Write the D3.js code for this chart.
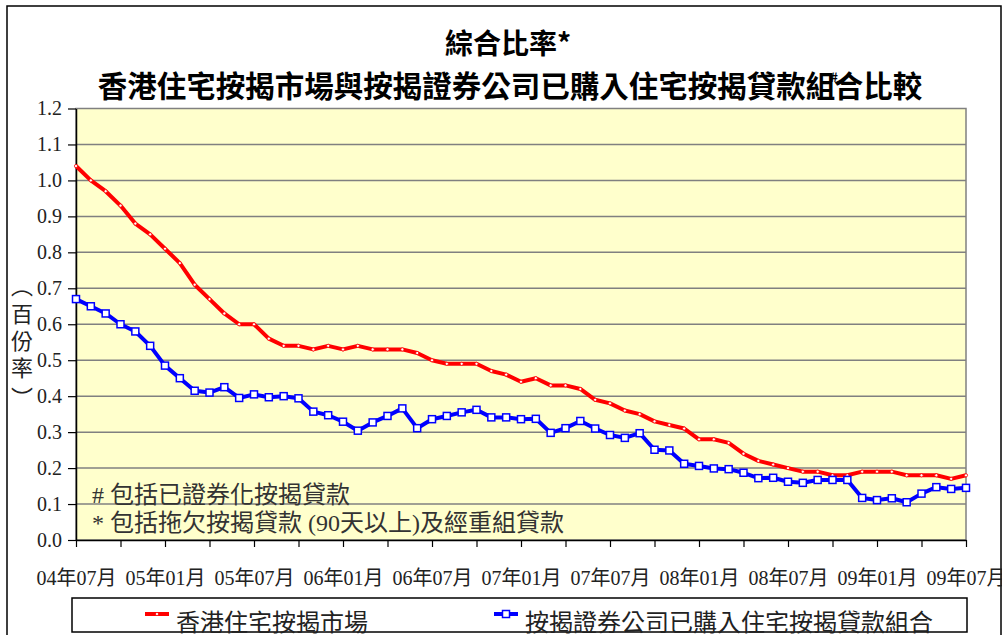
<!DOCTYPE html>
<html>
<head>
<meta charset="utf-8">
<script src="https://cdn.jsdelivr.net/npm/d3@7"></script>
<style>
  body { margin: 0; background: #fff; }
  svg { display: block; }
  text { font-family: "Liberation Serif", "Times New Roman", "Noto Sans CJK TC", serif; fill: #222; }
  .cjk { font-family: "Noto Sans CJK TC", sans-serif; }
</style>
</head>
<body>
<svg width="1002" height="635"></svg>
<script>
// monthly ratios, 2004-07 .. 2009-07 (percent)
const marketRatio = [
    1.04, 1.00, 0.97, 0.93, 0.88, 0.85, 0.81, 0.77, 0.71, 0.67, 0.63, 0.60, 0.60,
    0.56, 0.54, 0.54, 0.53, 0.54, 0.53, 0.54, 0.53, 0.53, 0.53, 0.52, 0.50, 0.49,
    0.49, 0.49, 0.47, 0.46, 0.44, 0.45, 0.43, 0.43, 0.42, 0.39, 0.38, 0.36, 0.35,
    0.33, 0.32, 0.31, 0.28, 0.28, 0.27, 0.24, 0.22, 0.21, 0.20, 0.19, 0.19, 0.18,
    0.18, 0.19, 0.19, 0.19, 0.18, 0.18, 0.18, 0.17, 0.18
];
const hkmcRatio = [
    0.67, 0.65, 0.63, 0.60, 0.58, 0.54, 0.485, 0.45, 0.415, 0.41, 0.425, 0.395, 0.405,
    0.397, 0.40, 0.394, 0.357, 0.347, 0.329, 0.304, 0.327, 0.345, 0.366, 0.311, 0.336, 0.345,
    0.355, 0.362, 0.341, 0.341, 0.336, 0.337, 0.298, 0.311, 0.331, 0.310, 0.292, 0.284, 0.297,
    0.251, 0.249, 0.212, 0.206, 0.199, 0.197, 0.187, 0.172, 0.173, 0.162, 0.159, 0.167, 0.167,
    0.167, 0.117, 0.111, 0.116, 0.105, 0.129, 0.147, 0.142, 0.145
];
const months = d3.timeMonth.range(new Date(2004, 6, 1), new Date(2009, 7, 1));
const tickLabels = ['04年07月', '05年01月', '05年07月', '06年01月', '06年07月', '07年01月',
    '07年07月', '08年01月', '08年07月', '09年01月', '09年07月'];
const yTicks = [0, 0.1, 0.2, 0.3, 0.4, 0.5, 0.6, 0.7, 0.8, 0.9, 1.0, 1.1, 1.2];
const seriesNames = ['香港住宅按揭市場', '按揭證券公司已購入住宅按揭貸款組合'];

const SERIF = '"Liberation Serif", "Times New Roman", "Noto Sans CJK TC", serif';
const svg = d3.select('svg');
const plotL = 76, plotR = 966, plotT = 108.5, plotB = 540;

const x = d3.scalePoint()
    .domain(d3.range(months.length))
    .range([plotL, plotR]);
const y = d3.scaleLinear()
    .domain([0, 1.2])
    .range([plotB, plotT]);

// outer frame
svg.append('rect')
    .attr('x', 7).attr('y', 6)
    .attr('width', 994).attr('height', 640)
    .attr('fill', 'none').attr('stroke', '#000').attr('stroke-width', 1.5);

// title
svg.append('text')
    .attr('class', 'cjk')
    .attr('x', 508).attr('y', 54)
    .attr('text-anchor', 'middle')
    .style('font-size', '28px').style('font-weight', 'bold').style('fill', '#000')
    .text('綜合比率*');
const t2 = svg.append('text')
    .attr('class', 'cjk')
    .attr('x', 510).attr('y', 97)
    .attr('text-anchor', 'middle')
    .style('font-size', '29.5px').style('font-weight', 'bold').style('fill', '#000');
t2.append('tspan').text('香港住宅按揭市場與按揭證券公司已購入住宅按揭貸款組');
t2.append('tspan').attr('dx', -5).attr('dy', -15).style('font-size', '13px').text('#');
t2.append('tspan').attr('dx', -4).attr('dy', 15).text('合比較');

// plot area
svg.append('rect')
    .attr('x', plotL).attr('y', plotT)
    .attr('width', plotR - plotL).attr('height', plotB - plotT)
    .attr('fill', '#FFFFCC')
    .attr('stroke', '#808080').attr('stroke-width', 1.5);

svg.append('g')
    .selectAll('line')
    .data(yTicks.filter(v => v > 0 && v < 1.2))
    .enter()
    .append('line')
    .attr('x1', plotL).attr('x2', plotR)
    .attr('y1', d => y(d)).attr('y2', d => y(d))
    .attr('stroke', '#808080').attr('stroke-width', 1.5);

// footnotes
svg.append('text')
    .attr('x', 92).attr('y', 503)
    .attr('font-family', SERIF)
    .style('font-size', '24px').style('fill', '#333')
    .text('# 包括已證券化按揭貸款');
svg.append('text')
    .attr('x', 92).attr('y', 531)
    .attr('font-family', SERIF)
    .style('font-size', '24px').style('fill', '#333')
    .text('* 包括拖欠按揭貸款 (90天以上)及經重組貸款');

// axes
const xAxis = svg.append('g')
    .attr('transform', `translate(0,${plotB})`)
    .call(d3.axisBottom(x)
        .tickValues(d3.range(0, months.length, 3))
        .tickSize(7)
        .tickSizeOuter(0)
        .tickFormat(i => i % 6 === 0 ? tickLabels[i / 6] : ''));
xAxis.attr('font-family', SERIF);
xAxis.select('.domain').attr('stroke', '#000').attr('stroke-width', 1.5);
xAxis.selectAll('.tick line').attr('stroke', '#000').attr('stroke-width', 1.2);
xAxis.selectAll('.tick text')
    .attr('y', 45).attr('dy', 0)
    .style('font-size', '20px').style('fill', '#222');

const yAxis = svg.append('g')
    .attr('transform', `translate(${plotL},0)`)
    .call(d3.axisLeft(y)
        .tickValues(yTicks)
        .tickSize(8)
        .tickSizeOuter(0)
        .tickPadding(6)
        .tickFormat(d3.format('.1f')));
yAxis.attr('font-family', SERIF);
yAxis.select('.domain').attr('stroke', '#000').attr('stroke-width', 1.5);
yAxis.selectAll('.tick line').attr('stroke', '#000').attr('stroke-width', 1.2);
yAxis.selectAll('.tick text')
    .style('font-size', '20px').style('fill', '#222');

// y label (vertical)
const yLab = ['︵', '百', '份', '率', '︶'];
svg.append('g')
    .selectAll('text')
    .data(yLab)
    .enter()
    .append('text')
    .attr('class', 'cjk')
    .attr('x', 22)
    .attr('y', (d, i) => [294, 322, 349, 376, 406][i])
    .attr('text-anchor', 'middle')
    .style('font-size', '22px').style('fill', '#222')
    .text(d => d);

// series
const line = d3.line()
    .x((d, i) => x(i))
    .y(d => y(d));

svg.append('path')
    .datum(marketRatio)
    .attr('d', line)
    .attr('fill', 'none').attr('stroke', '#FF0000').attr('stroke-width', 4)
    .attr('stroke-linejoin', 'round');
svg.append('g')
    .selectAll('circle')
    .data(marketRatio)
    .enter()
    .append('circle')
    .attr('cx', (d, i) => x(i)).attr('cy', d => y(d))
    .attr('r', 1.6)
    .attr('fill', '#fff').attr('stroke', '#FF0000').attr('stroke-width', 0.8);

svg.append('path')
    .datum(hkmcRatio)
    .attr('d', line)
    .attr('fill', 'none').attr('stroke', '#0000FF').attr('stroke-width', 4)
    .attr('stroke-linejoin', 'round');
svg.append('g')
    .selectAll('rect')
    .data(hkmcRatio)
    .enter()
    .append('rect')
    .attr('x', (d, i) => x(i) - 3.5).attr('y', d => y(d) - 3.5)
    .attr('width', 7).attr('height', 7)
    .attr('fill', '#fff').attr('stroke', '#0000FF').attr('stroke-width', 1.5);

// legend
svg.append('rect')
    .attr('x', 72).attr('y', 598)
    .attr('width', 895).attr('height', 34)
    .attr('fill', '#fff').attr('stroke', '#000').attr('stroke-width', 1.5);

const legendX = [145, 494];
const legendColors = ['#FF0000', '#0000FF'];
const lg = svg.append('g')
    .selectAll('g')
    .data(seriesNames)
    .enter()
    .append('g')
    .attr('transform', (d, i) => `translate(${legendX[i]},614)`);
lg.append('line')
    .attr('x1', 0).attr('x2', 24)
    .attr('stroke', (d, i) => legendColors[i]).attr('stroke-width', 4);
lg.filter((d, i) => i === 0).append('circle')
    .attr('cx', 12).attr('r', 1.6)
    .attr('fill', '#fff').attr('stroke', '#FF0000').attr('stroke-width', 0.8);
lg.filter((d, i) => i === 1).append('rect')
    .attr('x', 8.5).attr('y', -3.5).attr('width', 7).attr('height', 7)
    .attr('fill', '#fff').attr('stroke', '#0000FF').attr('stroke-width', 1.5);
lg.append('text')
    .attr('class', 'cjk')
    .attr('x', 31).attr('y', 17)
    .style('font-size', '24px').style('fill', '#222')
    .text(d => d);
</script>
</body>
</html>
